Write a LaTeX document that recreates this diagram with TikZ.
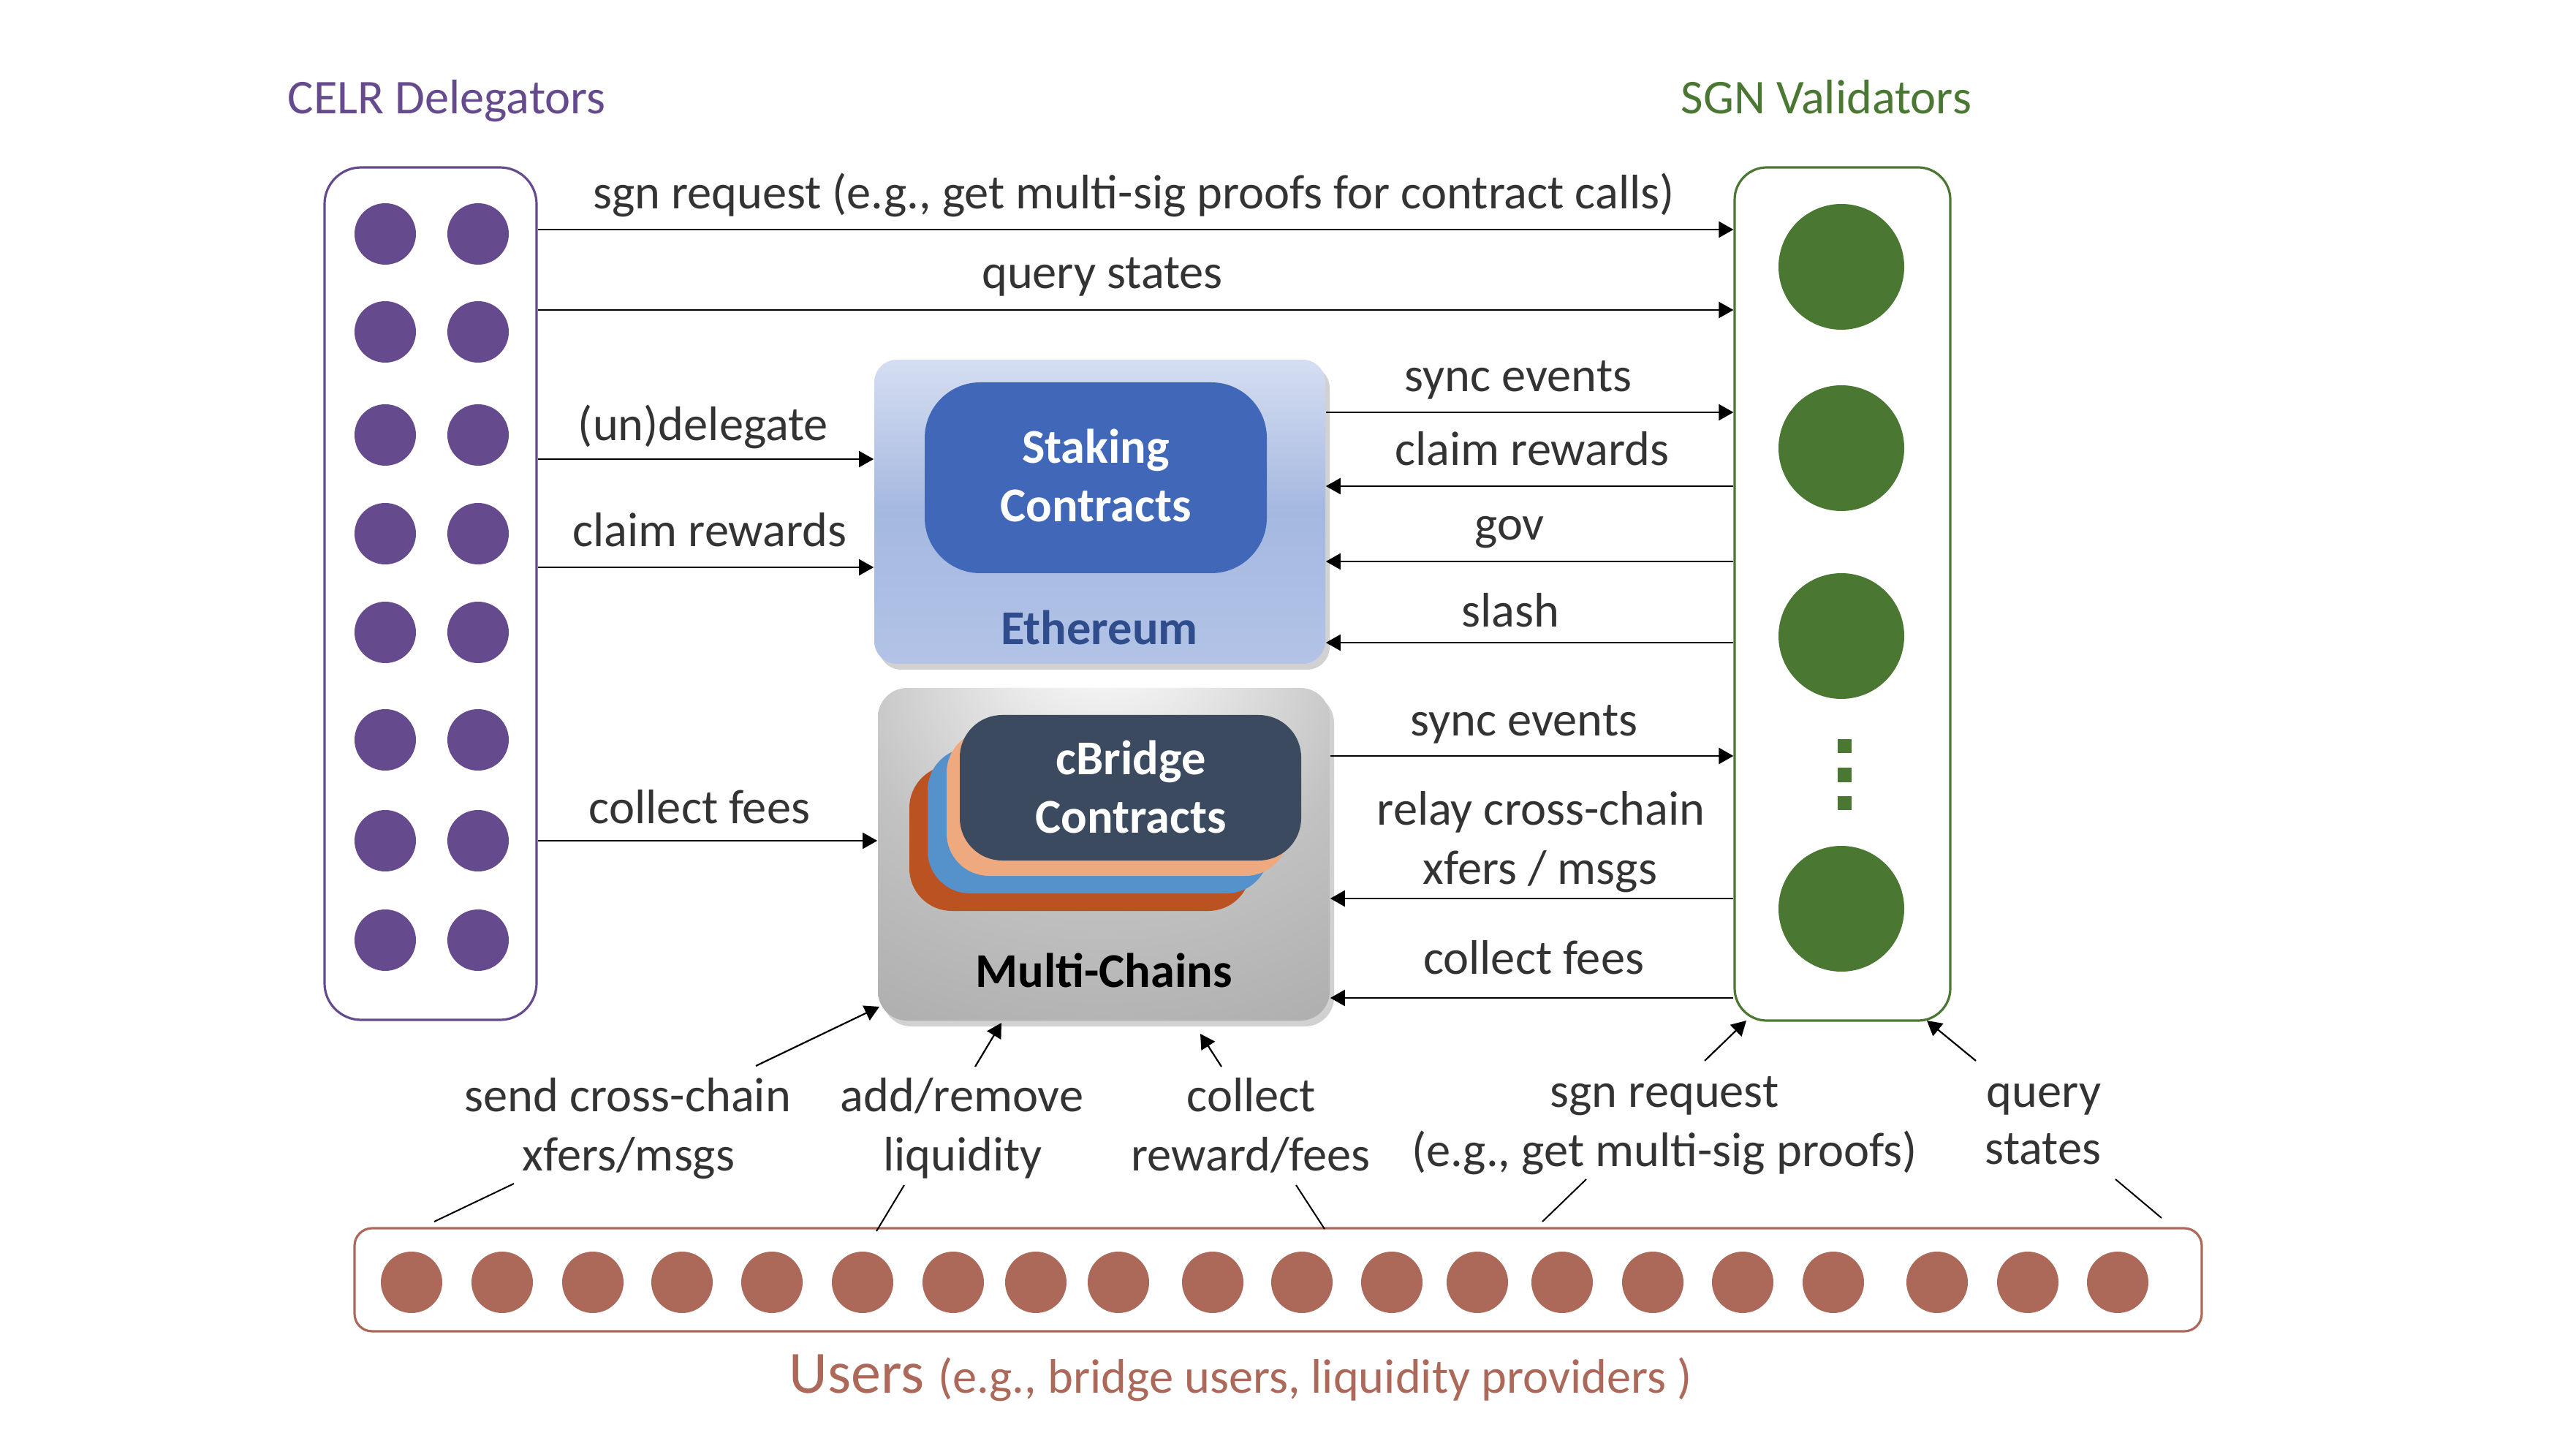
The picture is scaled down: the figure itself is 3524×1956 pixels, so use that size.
\documentclass[tikz,border=0pt]{standalone}
\usepackage{fontspec}
\setmainfont{Carlito}
\usetikzlibrary{arrows.meta,fit,shadows}
\definecolor{txt}{HTML}{333333}
\definecolor{purp}{HTML}{654A8E}
\definecolor{grn}{HTML}{4A7732}
\definecolor{brn}{HTML}{AC6959}
\definecolor{stk}{HTML}{4167B9}
\definecolor{ethtxt}{HTML}{2F4C8C}
\definecolor{ethA}{HTML}{D5DEF1}
\definecolor{ethB}{HTML}{A5B8E0}
\definecolor{ethC}{HTML}{B2C3E6}
\definecolor{mcA}{HTML}{F4F4F4}
\definecolor{mcB}{HTML}{C2C2C2}
\definecolor{mcC}{HTML}{ABABAB}
\definecolor{mcD}{HTML}{9C9C9C}
\definecolor{cbred}{HTML}{BA5222}
\definecolor{cbblue}{HTML}{5591CB}
\definecolor{cbpeach}{HTML}{EFA97E}
\definecolor{cbdark}{HTML}{3B4A5E}
\pgfdeclareradialshading{mcgray}{\pgfpoint{0bp}{35bp}}{color(0bp)=(mcA); color(6bp)=(mcA); color(28bp)=(mcB); color(50bp)=(mcC); color(80bp)=(mcD)}
\begin{document}
\begin{tikzpicture}[x=0.25pt,y=-0.25pt,
  lbl/.style={font=\fontsize{16.6}{19.9}\selectfont, text=txt, inner sep=0, anchor=base},
  boldlbl/.style={font=\fontsize{16.6}{19.9}\selectfont\bfseries, inner sep=0, anchor=base},
  ttl/.style={font=\fontsize{16.6}{19.9}\selectfont, inner sep=0, anchor=base west},
  arr/.style={-{Triangle[length=5pt,width=5.5pt]}, line width=0.55pt, black},
  tickline/.style={line width=0.5pt, black},
  colbox/.style={inner sep=0, rounded corners=12.5pt, line width=0.8pt, fill=white},
  shad/.style={drop shadow={shadow xshift=1.5pt, shadow yshift=-2pt, opacity=0.3, fill=black!60}},
  cb/.style={inner sep=0, rounded corners=14.5pt}
]
\useasboundingbox (0,0) rectangle (3524,1956);

% titles
\node[ttl, text=purp] (tdel) at (393,156) {CELR Delegators};
\node[ttl, text=grn] (tval) at (2299,156) {SGN Validators};

% delegators
\node[colbox, draw=purp, fit={(444,229) (734,1395)}] (deleg) {};
\foreach \y in {320,454,595,730,865,1012,1150,1286} {
  \fill[purp] (527,\y) circle[radius=42];
  \fill[purp] (654,\y) circle[radius=42];
}

% validators
\node[colbox, draw=grn, rounded corners=11pt, fit={(2373,229) (2668,1396)}] (valid) {};
\foreach \y in {365,613,870,1243} {
  \fill[grn] (2519,\y) circle[radius=86];
}
\foreach \y in {1021,1060,1098} {
  \fill[grn] (2514,\y-9.5) rectangle (2533,\y+9.5);
}

% Ethereum
\node[inner sep=0, rounded corners=7.75pt, top color=ethA, bottom color=ethC, middle color=ethB, shad, fit={(1196,492) (1813,908)}] (eth) {};
\node[inner sep=0, rounded corners=19pt, fill=stk, fit={(1265,523) (1733,784)}] (stake) {};
\node[boldlbl, text=white] (stakeA) at (1499,634) {Staking};
\node[boldlbl, text=white] (stakeB) at (1499,714) {Contracts};
\node[boldlbl, text=ethtxt] (ethlbl) at (1504,882) {Ethereum};

% Multi-Chains
\node[inner sep=0, rounded corners=10pt, shading=mcgray, shad, fit={(1201,941) (1819,1396)}] (mc) {};
\node[cb, fill=cbred, fit={(1244,1047) (1711,1246)}] (cb1) {};
\node[cb, fill=cbblue, fit={(1269,1023) (1736,1222)}] (cb2) {};
\node[cb, fill=cbpeach, fit={(1295,999) (1762,1198)}] (cb3) {};
\node[cb, fill=cbdark, fit={(1313,978) (1780,1177)}] (cb4) {};
\node[boldlbl, text=white] (cbA) at (1547,1060) {cBridge};
\node[boldlbl, text=white] (cbB) at (1547,1139) {Contracts};
\node[boldlbl, text=black] (mclbl) at (1510,1350) {Multi-Chains};

% users
\node[inner sep=0, rounded corners=6pt, draw=brn, line width=0.8pt, fit={(485,1680) (3012,1821)}] (users) {};
\foreach \x in {563,687,811,933,1056,1180,1304,1417,1530,1659,1781,1904,2021,2137,2261,2384,2508,2650,2774,2897} {
  \fill[brn] (\x,1754) circle[radius=42];
}
\node[anchor=base west, inner sep=0, text=brn, font=\fontsize{16.6}{19.9}\selectfont] (tusers) at (1079,1905) {{\fontsize{20.5}{24}\selectfont Users }(e.g., bridge users, liquidity providers )};

% left labels and arrows
\node[lbl] (l1) at (1551,286) {sgn request (e.g., get multi-sig proofs for contract calls)};
\node[lbl] (l2) at (1508,395) {query states};
\node[lbl] (l3) at (962,603) {(un)delegate};
\node[lbl] (l4) at (971,748) {claim rewards};
\node[lbl] (l5) at (957,1126) {collect fees};
\draw[arr] (deleg.east |- 0,314) -- (valid.west |- 0,314);
\draw[arr] (deleg.east |- 0,424) -- (valid.west |- 0,424);
\draw[arr] (deleg.east |- 0,628) -- (eth.west |- 0,628);
\draw[arr] (deleg.east |- 0,776) -- (eth.west |- 0,776);
\draw[arr] (deleg.east |- 0,1150) -- (mc.west |- 0,1150);

% right labels and arrows
\node[lbl] (r1) at (2077,536) {sync events};
\node[lbl] (r2) at (2096,637) {claim rewards};
\node[lbl] (r3) at (2065,739) {gov};
\node[lbl] (r4) at (2066,858) {slash};
\node[lbl] (r5) at (2085,1006) {sync events};
\node[lbl] (r6a) at (2108,1128) {relay cross-chain};
\node[lbl] (r6b) at (2107,1209) {xfers / msgs};
\node[lbl] (r7) at (2098,1332) {collect fees};
\draw[arr] (eth.east |- 0,564) -- (valid.west |- 0,564);
\draw[arr] (valid.west |- 0,665) -- (eth.east |- 0,665);
\draw[arr] (valid.west |- 0,768) -- (eth.east |- 0,768);
\draw[arr] (valid.west |- 0,879) -- (eth.east |- 0,879);
\draw[arr] (mc.east |- 0,1034) -- (valid.west |- 0,1034);
\draw[arr] (valid.west |- 0,1229) -- (mc.east |- 0,1229);
\draw[arr] (valid.west |- 0,1365) -- (mc.east |- 0,1365);

% bottom labels
\node[lbl] (sendA) at (859,1520) {send cross-chain};
\node[lbl] (sendB) at (860,1601) {xfers/msgs};
\node[lbl] (addA) at (1316,1520) {add/remove};
\node[lbl] (addB) at (1317,1601) {liquidity};
\node[lbl] (colA) at (1712,1520) {collect};
\node[lbl] (colB) at (1711,1601) {reward/fees};
\node[lbl] (sgnA) at (2277,1514) {sgn request};
\node[lbl] (sgnB) at (2277,1595) {(e.g., get multi-sig proofs)};
\node[lbl] (qA) at (2796,1514) {query};
\node[lbl] (qB) at (2795,1592) {states};

% bottom connectors
\coordinate (s1) at (1034,1458); \coordinate (s2) at (1203,1377);
\coordinate (s3) at (703,1619);  \coordinate (s4) at (594,1671);
\coordinate (a1) at (1334,1459); \coordinate (a2) at (1370,1399);
\coordinate (a3) at (1237,1621); \coordinate (a4) at (1199,1684);
\coordinate (c1) at (1671,1459); \coordinate (c2) at (1642,1414);
\coordinate (c3) at (1773,1621); \coordinate (c4) at (1812,1681);
\coordinate (g1) at (2332,1451); \coordinate (g2) at (2389,1396);
\coordinate (g3) at (2170,1613); \coordinate (g4) at (2110,1671);
\coordinate (q1) at (2703,1451); \coordinate (q2) at (2636,1396);
\coordinate (q3) at (2894,1613); \coordinate (q4) at (2957,1666);
\draw[arr] (s1) -- (s2); \draw[tickline] (s3) -- (s4);
\draw[arr] (a1) -- (a2); \draw[tickline] (a3) -- (a4);
\draw[arr] (c1) -- (c2); \draw[tickline] (c3) -- (c4);
\draw[arr] (g1) -- (g2); \draw[tickline] (g3) -- (g4);
\draw[arr] (q1) -- (q2); \draw[tickline] (q3) -- (q4);
\end{tikzpicture}
\end{document}
